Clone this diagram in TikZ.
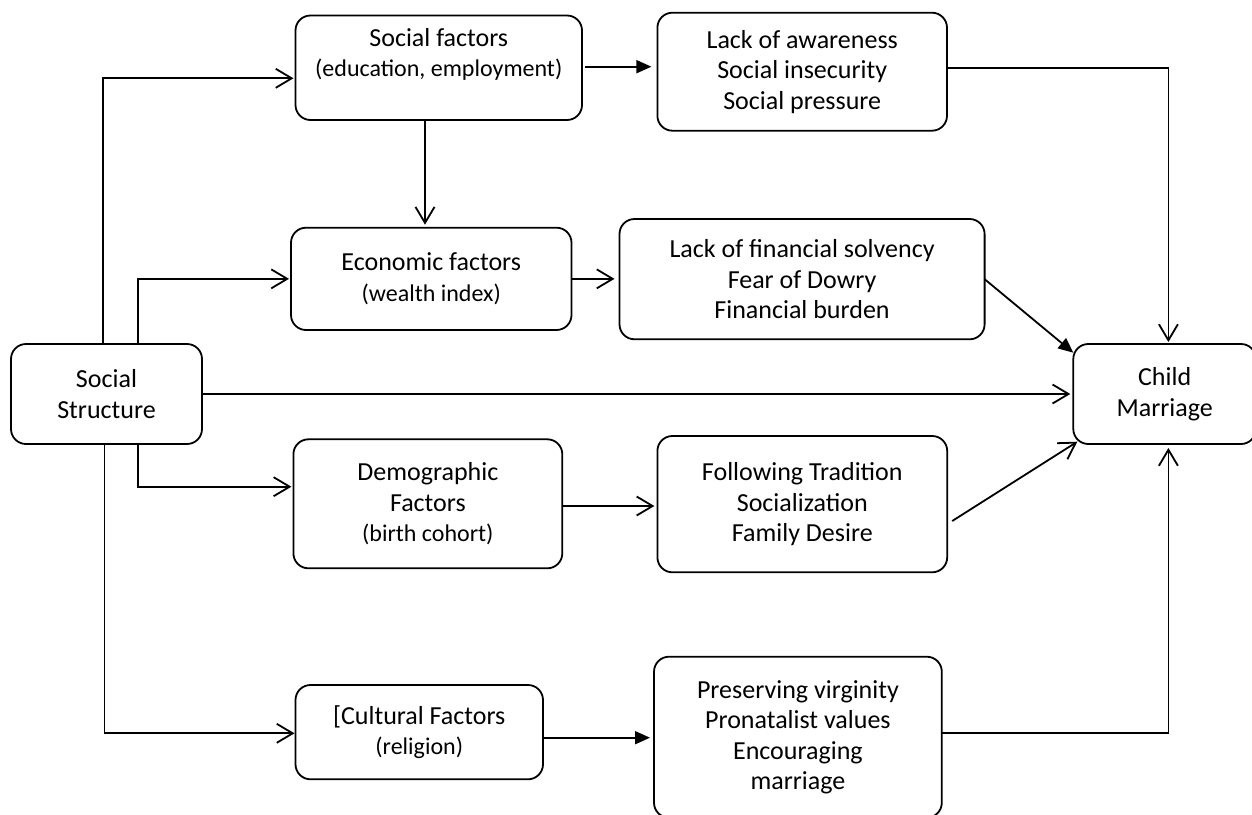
\documentclass[tikz,border=0pt]{standalone}
\usepackage{fontspec}
\setmainfont{Carlito}
\usetikzlibrary{arrows.meta,calc}
\newcommand\pfont{\fontsize{24}{30}\selectfont}
\begin{document}
\begin{tikzpicture}[x=1pt,y=-1pt,
  box/.style={draw, line width=1.8pt, rounded corners=15pt, inner sep=0pt, outer sep=0pt,
    align=center, font=\fontsize{26}{30.5}\selectfont},
  open/.style={line width=1.8pt, -{Straight Barb[length=16pt,width=19pt]}},
  filled/.style={line width=1.8pt, -{Triangle[length=15pt,width=13pt]}},
]
\useasboundingbox (0,0) rectangle (1252,814);

\node[box, minimum width=191pt, minimum height=100pt] (ss) at (106.5,394) {Social\\Structure};
\node[box, minimum width=286.5pt, minimum height=104.5pt] (sf) at (438.75,67.75)
  {Social factors\\{\pfont (education, employment)}\\ \mbox{}};
\node[box, minimum width=289.6pt, minimum height=118pt] (la) at (802.2,71.7)
  {Lack of awareness\\Social insecurity\\Social pressure};
\node[box, minimum width=280.5pt, minimum height=102.3pt] (ef) at (431.25,278.85)
  {Economic factors\\{\pfont (wealth index)}};
\node[box, minimum width=365.1pt, minimum height=120.3pt] (lf) at (802.05,279.15)
  {Lack of financial solvency\\Fear of Dowry\\Financial burden};
\node[box, minimum width=182.7pt, minimum height=100pt] (cm) at (1164.65,394) {Child\\Marriage};
\node[box, minimum width=268.9pt, minimum height=129pt] (df) at (427.85,503.8)
  {Demographic\\Factors\\{\pfont (birth cohort)}};
\node[box, minimum width=289.8pt, minimum height=136.3pt] (ft) at (802.3,504.15)
  {Following Tradition\\Socialization\\Family Desire};
\node[box, minimum width=247.5pt, minimum height=94.3pt] (cf) at (419.25,732.15)
  {[Cultural Factors\\{\pfont (religion)}};
\node[box, minimum width=287.8pt, minimum height=161pt] (pv) at (797.9,737.2)
  {Preserving virginity\\Pronatalist values\\Encouraging\\marriage};

\coordinate (v1) at (103.3,0);
\coordinate (v2) at (137.6,0);
\coordinate (v3) at (104.4,0);
\coordinate (v4) at (425,0);
\coordinate (vR) at (1168.4,0);
\coordinate (h1) at (0,78.3);
\coordinate (h4) at (0,486.7);
\coordinate (h7) at (0,66.7);
\coordinate (h9) at (0,68.3);
\coordinate (h11) at (0,506);
\coordinate (h13) at (0,737.7);
\coordinate (h14) at (0,733.3);

\draw[open, shorten >=2pt] (v1 |- ss.north) |- (sf.west |- h1);
\draw[open, shorten >=2pt] (v2 |- ss.north) |- (ef.west);
\draw[open, shorten >=3pt] (ss.east) -- (cm.west);
\draw[open, shorten >=2pt] (v2 |- ss.south) |- (df.west |- h4);
\draw[open, shorten >=1pt] (v3 |- ss.south) |- (cf.west |- h14);
\draw[open, shorten >=3pt] (v4 |- sf.south) -- (v4 |- ef.north);
\draw[filled, shorten <=3pt, shorten >=6pt] (sf.east |- h7) -- (la.west |- h7);
\draw[open, shorten >=5pt] (ef.east) -- (lf.west |- ef.east);
\draw[open, shorten >=2pt] (la.east |- h9) -| (vR |- cm.north);
\draw[filled] (lf.east) -- ($(cm.north west)+(0,8.7)$);
\draw[open, shorten >=3pt] (df.east |- h11) -- (ft.west |- h11);
\draw[open] ($(ft.east)+(5,16.85)$) -- ($(cm.south west)+(4,-2.3)$);
\draw[filled, shorten >=4pt] (cf.east |- h13) -- (pv.west |- h13);
\draw[open, shorten >=4pt] (pv.east |- h14) -| (vR |- cm.south);
\end{tikzpicture}
\end{document}
